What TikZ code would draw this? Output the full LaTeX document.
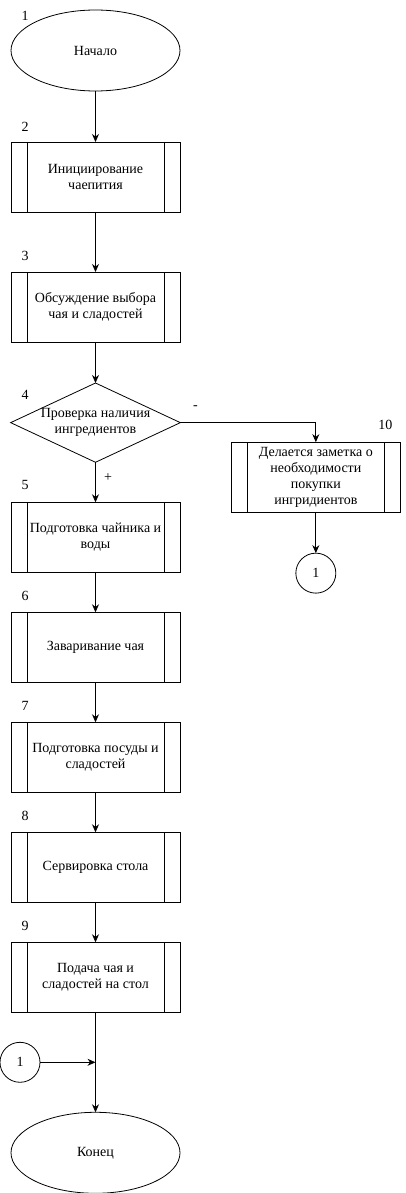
\documentclass[tikz,border=0pt]{standalone}
\usepackage{fontspec}
\setmainfont{Liberation Serif}
\usetikzlibrary{positioning}
\usetikzlibrary{arrows.meta}
\usetikzlibrary{shapes.geometric}
\usetikzlibrary{calc}

\begin{document}
\begin{tikzpicture}[
    x=1pt, y=1pt,
    font=\fontsize{14}{16}\selectfont,
    every node/.style={outer sep=0pt},
    terminal/.style={ellipse, draw, line width=0.8pt, minimum width=169pt, minimum height=81pt, inner sep=0pt},
    procbox/.style={rectangle, draw, line width=0.8pt, minimum width=169pt, minimum height=70pt, align=center, inner sep=0pt,
        path picture={
            \draw[line width=0.8pt] ([xshift=16pt]path picture bounding box.north west) -- ([xshift=16pt]path picture bounding box.south west);
            \draw[line width=0.8pt] ([xshift=-16pt]path picture bounding box.north east) -- ([xshift=-16pt]path picture bounding box.south east);
        }},
    decision/.style={diamond, draw, line width=0.8pt, minimum width=169pt, minimum height=79pt, inner sep=0pt, aspect=2.14, align=center},
    connector/.style={circle, draw, line width=0.8pt, minimum size=40pt, inner sep=0pt},
    numlbl/.style={inner sep=0pt},
    arrow/.style={-{Stealth[length=8pt, width=7pt]}, line width=0.8pt}
]
\useasboundingbox (0,0) rectangle (406,-1193);

% Main column
\node[terminal] (start) at (95.5,-50.5) {Начало};
\node[procbox, below=51pt of start] (init) {Инициирование\\чаепития};
\node[procbox, below=60pt of init] (discuss) {Обсуждение выбора\\чая и сладостей};
\node[decision, below=41pt of discuss] (check) {Проверка наличия\\ингредиентов};
\node[procbox, below=40pt of check] (kettle) {Подготовка чайника и\\воды};
\node[procbox, below=40pt of kettle] (brew) {Заваривание чая};
\node[procbox, below=40pt of brew] (dishes) {Подготовка посуды и\\сладостей};
\node[procbox, below=40pt of dishes] (serve) {Сервировка стола};
\node[procbox, below=40pt of serve] (deliver) {Подача чая и\\сладостей на стол};
\node[terminal, below=100pt of deliver] (finish) {Конец};

% Side branch
\node[procbox, below right=19.5pt and 51pt of check.east] (note) {Делается заметка о\\необходимости\\покупки\\ингридиентов};
\node[connector, below=41pt of note] (conA) {1};

% Connector into the end
\coordinate (join) at ($(deliver.south)!0.5!(finish.north)$);
\node[connector, left=55.5pt of join] (conB) {1};

% Numbers
\node[numlbl] (n1) at ([shift={(-70.5,-6)}]start.north) {1};
\node[numlbl] (n2) at ([shift={(14,15)}]init.north west) {2};
\node[numlbl] (n3) at ([shift={(14,16)}]discuss.north west) {3};
\node[numlbl] (n4) at ([shift={(-70.5,-12)}]check.north) {4};
\node[numlbl] (n5) at ([shift={(14,17)}]kettle.north west) {5};
\node[numlbl] (n6) at ([shift={(14,16)}]brew.north west) {6};
\node[numlbl] (n7) at ([shift={(14,16)}]dishes.north west) {7};
\node[numlbl] (n8) at ([shift={(14,16)}]serve.north west) {8};
\node[numlbl] (n9) at ([shift={(14,16)}]deliver.north west) {9};
\node[numlbl] (n10) at ([shift={(-15,17)}]note.north east) {10};

% Branch labels
\node[numlbl] (minus) at ([shift={(15,15)}]check.east) {-};
\node[numlbl] (plus) at ([shift={(12.5,-15)}]check.south) {+};

% Arrows
\draw[arrow] (start) -- (init);
\draw[arrow] (init) -- (discuss);
\draw[arrow] (discuss) -- (check);
\draw[arrow] (check) -- (kettle);
\draw[arrow] (kettle) -- (brew);
\draw[arrow] (brew) -- (dishes);
\draw[arrow] (dishes) -- (serve);
\draw[arrow] (serve) -- (deliver);
\draw[arrow] (deliver) -- (finish);
\draw[arrow] (check.east) -| (note.north);
\draw[arrow] (note) -- (conA);
\draw[arrow] (conB) -- (join);

\end{tikzpicture}
\end{document}
